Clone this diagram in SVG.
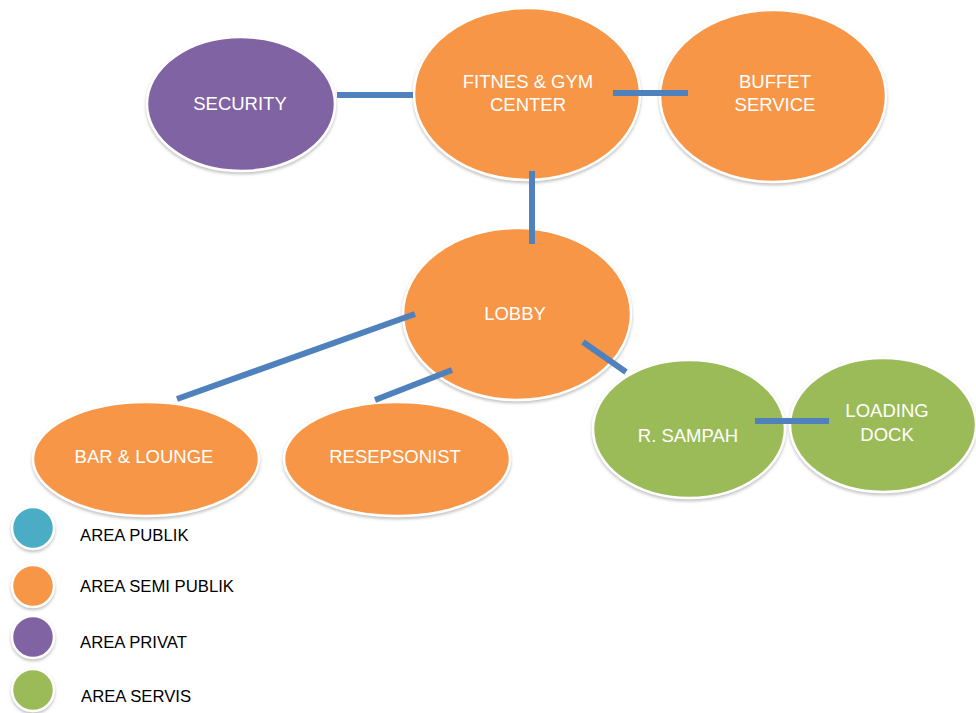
<svg xmlns="http://www.w3.org/2000/svg" width="976" height="713" viewBox="0 0 976 713">
  <defs>
    <filter id="soft" x="-10%" y="-10%" width="120%" height="125%">
      <feDropShadow dx="0" dy="2" stdDeviation="1.5" flood-color="#9a9a9a" flood-opacity="0.6"/>
    </filter>
  </defs>
  <style>
    .shape { stroke: #ffffff; stroke-width: 2.5; filter: url(#soft); }
    .semi { fill: #F79646; }
    .privat { fill: #8064A2; }
    .servis { fill: #9BBB59; }
    .publik { fill: #4BACC6; }
    .label { font-family: "Liberation Sans", Arial, sans-serif; font-size: 18.5px; fill: #ffffff; text-anchor: middle; }
    .legend-text { font-family: "Liberation Sans", Arial, sans-serif; font-size: 16.7px; fill: #000000; }
    .link { stroke: #4F81BD; stroke-width: 6; fill: none; }
  </style>
  <rect width="976" height="713" fill="#ffffff"/>

  <!-- nodes -->
  <g id="security">
    <ellipse class="shape privat" cx="241" cy="104" rx="94" ry="67"/>
    <text class="label" x="240" y="110">SECURITY</text>
  </g>
  <g id="fitnes">
    <ellipse class="shape semi" cx="527" cy="94" rx="113" ry="86"/>
    <text class="label" x="528" y="88">FITNES &amp; GYM</text>
    <text class="label" x="528" y="111">CENTER</text>
  </g>
  <g id="buffet">
    <ellipse class="shape semi" cx="773" cy="96" rx="113" ry="86"/>
    <text class="label" x="775" y="88">BUFFET</text>
    <text class="label" x="775" y="111">SERVICE</text>
  </g>
  <g id="lobby">
    <ellipse class="shape semi" cx="517" cy="314" rx="114" ry="86"/>
    <text class="label" x="515" y="320">LOBBY</text>
  </g>
  <g id="bar-lounge">
    <ellipse class="shape semi" cx="146" cy="459" rx="113" ry="57"/>
    <text class="label" x="144" y="463">BAR &amp; LOUNGE</text>
  </g>
  <g id="resepsonist">
    <ellipse class="shape semi" cx="397" cy="459" rx="113" ry="57"/>
    <text class="label" x="395" y="463">RESEPSONIST</text>
  </g>
  <g id="r-sampah">
    <ellipse class="shape servis" cx="689" cy="429" rx="96" ry="69"/>
    <text class="label" x="688" y="442">R. SAMPAH</text>
  </g>
  <g id="loading-dock">
    <ellipse class="shape servis" cx="883" cy="425" rx="93" ry="67"/>
    <text class="label" x="887" y="417">LOADING</text>
    <text class="label" x="887" y="441">DOCK</text>
  </g>

  <!-- connectors -->
  <g id="connectors">
    <line class="link" x1="337" y1="95" x2="413" y2="95"/>
    <line class="link" x1="613" y1="93" x2="688" y2="93"/>
    <line class="link" x1="532" y1="171" x2="532" y2="244"/>
    <line class="link" x1="415" y1="314" x2="177" y2="399"/>
    <line class="link" x1="452" y1="370" x2="375" y2="400"/>
    <line class="link" x1="583" y1="342" x2="626" y2="372"/>
    <line class="link" x1="755" y1="421" x2="829" y2="421"/>
  </g>

  <!-- legend -->
  <g id="legend">
    <circle class="shape publik" cx="33" cy="528" r="21"/>
    <text class="legend-text" x="80" y="541">AREA PUBLIK</text>
    <circle class="shape semi" cx="33" cy="586" r="21"/>
    <text class="legend-text" x="80" y="592">AREA SEMI PUBLIK</text>
    <circle class="shape privat" cx="33" cy="637" r="21"/>
    <text class="legend-text" x="80" y="648">AREA PRIVAT</text>
    <circle class="shape servis" cx="33" cy="690" r="21"/>
    <text class="legend-text" x="81" y="702">AREA SERVIS</text>
  </g>
</svg>
